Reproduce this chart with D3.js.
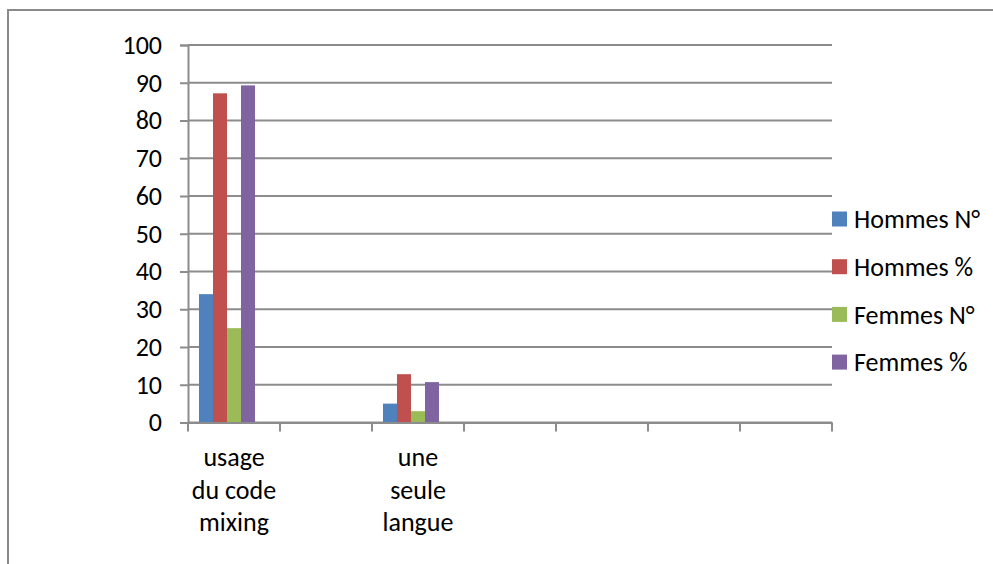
<!DOCTYPE html>
<html>
<head>
<meta charset="utf-8">
<script src="https://cdn.jsdelivr.net/npm/d3@7/dist/d3.min.js"></script>
<style>
  html, body { margin: 0; padding: 0; background: #fff; }
  svg { display: block; }
  text { font-family: Carlito, Lato, "Liberation Sans", sans-serif; fill: #000; }
</style>
</head>
<body>
<svg id="chart" width="993" height="564"></svg>
<script>
// ---- data ----
const categories = ["usage du code mixing", "(vide 1)", "une seule langue", "(vide 2)", "(vide 3)", "(vide 4)", "(vide 5)"];
const categoryLines = [["usage", "du code", "mixing"], [], ["une", "seule", "langue"], [], [], [], []];
const seriesNames = ["Hommes N°", "Hommes %", "Femmes N°", "Femmes %"];
const seriesColors = ["#4F81BD", "#C0504D", "#9BBB59", "#8064A2"];
// values per category (null = empty category)
const hommesN = [34, null, 5];
const hommesPct = [87.2, null, 12.8];
const femmesN = [25, null, 3];
const femmesPct = [89.3, null, 10.7];
const yTicks = [0, 10, 20, 30, 40, 50, 60, 70, 80, 90, 100];

const seriesValues = [hommesN, hommesPct, femmesN, femmesPct];

const svg = d3.select("#chart");
const W = 993, H = 564;
const plot = { left: 188, right: 832, top: 45, bottom: 422.5 };
const FS = 26;

// outer frame (chart area border)
svg.append("path")
  .attr("d", `M${W + 5},10 H8 V${H + 5}`)
  .attr("fill", "none").attr("stroke", "#8a8a8a").attr("stroke-width", 2);

const x0 = d3.scaleBand().domain(categories).range([plot.left, plot.right]);
// 5 slots (4 visible series + one empty slot as in the source), gap width 150%
const x1 = d3.scaleBand().domain([...seriesNames, "_empty"]).range([0, x0.bandwidth()])
  .paddingInner(0).paddingOuter(0.785);
const y = d3.scaleLinear().domain([0, 100]).range([plot.bottom, plot.top]);

const gridColor = "#8c8c8c";

// gridlines
svg.append("g").selectAll("line").data(yTicks).join("line")
  .attr("x1", plot.left).attr("x2", plot.right)
  .attr("y1", d => y(d)).attr("y2", d => y(d))
  .attr("stroke", gridColor).attr("stroke-width", 2);

// y axis
const yAxis = d3.axisLeft(y).tickValues(yTicks).tickSize(8).tickPadding(18).tickFormat(d3.format("d"));
const gy = svg.append("g").attr("transform", `translate(${plot.left},0)`).call(yAxis);
gy.select(".domain").attr("stroke", gridColor).attr("stroke-width", 2);
gy.selectAll(".tick line").attr("stroke", gridColor).attr("stroke-width", 2);
gy.selectAll(".tick text").attr("font-size", FS).attr("font-family", "Carlito, Lato, sans-serif").attr("fill", "#000");

// bars
const bars = [];
seriesValues.forEach((vals, si) => {
  vals.forEach((v, ci) => { if (v != null) bars.push({ s: seriesNames[si], c: categories[ci], v, color: seriesColors[si] }); });
});
svg.append("g").selectAll("rect").data(bars).join("rect")
  .attr("x", d => x0(d.c) + x1(d.s))
  .attr("width", x1.bandwidth())
  .attr("y", d => y(d.v))
  .attr("height", d => y(0) - y(d.v))
  .attr("fill", d => d.color);

// x axis
const xAxis = d3.axisBottom(x0).tickSize(0).tickFormat("");
const gx = svg.append("g").attr("transform", `translate(0,${plot.bottom})`).call(xAxis);
gx.select(".domain").attr("stroke", gridColor).attr("stroke-width", 2);
const boundaries = categories.map(c => x0(c)).concat([plot.right]);
gx.selectAll(".bnd").data(boundaries).join("line").attr("class", "bnd")
  .attr("x1", d => d).attr("x2", d => d).attr("y1", 0).attr("y2", 9)
  .attr("stroke", gridColor).attr("stroke-width", 2);

// category labels
categories.forEach((c, i) => {
  const lines = categoryLines[i];
  if (!lines.length) return;
  const cx = x0(c) + x0.bandwidth() / 2;
  const t = svg.append("text")
    .attr("x", cx)
    .attr("y", 466)
    .attr("text-anchor", "middle")
    .attr("font-size", FS);
  lines.forEach((l, k) => t.append("tspan").attr("x", cx).attr("dy", k === 0 ? 0 : 32.5).text(l));
});

// legend
const legend = svg.append("g").attr("transform", "translate(832,219)");
seriesNames.forEach((s, i) => {
  const g = legend.append("g").attr("transform", `translate(0,${i * 47.7})`);
  g.append("rect").attr("x", 0).attr("y", -7.5).attr("width", 15).attr("height", 15).attr("fill", seriesColors[i]);
  g.append("text").attr("x", 22).attr("y", 0).attr("dy", "0.36em").attr("font-size", FS).text(s);
});
</script>
</body>
</html>
